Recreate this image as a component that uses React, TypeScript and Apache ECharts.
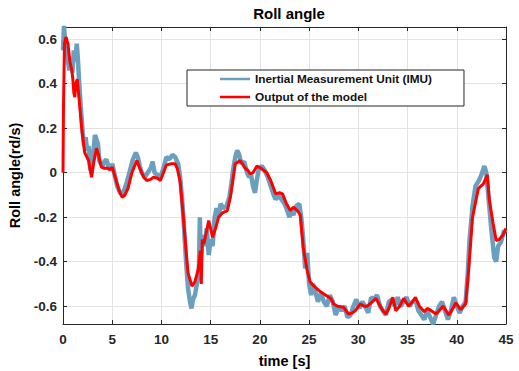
import React, { useEffect, useRef } from "react";
import * as echarts from "echarts";

const xTicks = [0, 5, 10, 15, 20, 25, 30, 35, 40, 45];
const yTicks = [-0.6, -0.4, -0.2, 0, 0.2, 0.4, 0.6];
const seriesNames = ["Inertial Measurement Unit (IMU)", "Output of the model"];

const imuData: [number, number][] = [
  [0, 0.55], [0.1, 0.66], [0.2, 0.6], [0.35, 0.55], [0.5, 0.5], [0.65, 0.46], [0.8, 0.52], [0.95, 0.45],
  [1.1, 0.55], [1.25, 0.5], [1.4, 0.58], [1.5, 0.52], [1.65, 0.4], [1.8, 0.3], [2.0, 0.18], [2.15, 0.12],
  [2.3, 0.16], [2.45, 0.1], [2.6, 0.12], [2.75, 0.02], [2.9, 0.0], [3.05, 0.08], [3.25, 0.17], [3.4, 0.15],
  [3.55, 0.13], [3.7, 0.05], [3.85, 0.04], [4.0, 0.03], [4.2, 0.05], [4.4, 0.06], [4.6, 0.03], [4.8, 0.01],
  [5.0, 0.04], [5.2, 0.0], [5.5, -0.06], [5.8, -0.09], [6.0, -0.1], [6.2, -0.08], [6.5, -0.04], [6.8, 0.01],
  [7.1, 0.06], [7.4, 0.09], [7.6, 0.07], [7.8, 0.03], [8.0, 0.0], [8.3, -0.02], [8.6, 0.0], [8.9, 0.02],
  [9.1, 0.05], [9.3, 0.0], [9.6, -0.01], [9.9, -0.02], [10.2, 0.02], [10.5, 0.07], [10.8, 0.06], [11.1, 0.08],
  [11.4, 0.07], [11.7, 0.04], [11.9, -0.02], [12.1, -0.12], [12.3, -0.25], [12.5, -0.4], [12.7, -0.52],
  [12.9, -0.58], [13.05, -0.61], [13.2, -0.57], [13.4, -0.55], [13.6, -0.5], [13.8, -0.46], [13.9, -0.2],
  [14.0, -0.38], [14.2, -0.28], [14.4, -0.33], [14.6, -0.25], [14.8, -0.37], [15.0, -0.3], [15.2, -0.33],
  [15.4, -0.2], [15.6, -0.16], [15.8, -0.2], [16.0, -0.14], [16.3, -0.16], [16.6, -0.15], [16.9, -0.11],
  [17.1, -0.05], [17.3, 0.02], [17.5, 0.07], [17.7, 0.1], [17.9, 0.08], [18.1, 0.04], [18.4, 0.05],
  [18.7, 0.0], [18.9, -0.02], [19.1, -0.01], [19.3, -0.06], [19.5, -0.09], [19.7, -0.03], [19.9, 0.02],
  [20.2, 0.03], [20.5, 0.01], [20.8, -0.02], [21.1, -0.06], [21.4, -0.1], [21.6, -0.12], [21.9, -0.1],
  [22.2, -0.12], [22.5, -0.14], [22.7, -0.16], [23.0, -0.2], [23.2, -0.17], [23.4, -0.19], [23.7, -0.15],
  [24.0, -0.14], [24.2, -0.2], [24.4, -0.3], [24.6, -0.43], [24.8, -0.36], [25.0, -0.5], [25.2, -0.55],
  [25.4, -0.5], [25.6, -0.53], [25.9, -0.58], [26.2, -0.54], [26.5, -0.58], [26.8, -0.6], [27.1, -0.55],
  [27.4, -0.58], [27.7, -0.64], [28.0, -0.6], [28.3, -0.62], [28.6, -0.6], [28.9, -0.65], [29.2, -0.64],
  [29.5, -0.6], [29.8, -0.57], [30.1, -0.61], [30.4, -0.58], [30.7, -0.6], [31.0, -0.63], [31.3, -0.56],
  [31.6, -0.57], [31.9, -0.55], [32.2, -0.6], [32.5, -0.62], [32.8, -0.64], [33.1, -0.58], [33.4, -0.57],
  [33.7, -0.6], [34.0, -0.56], [34.3, -0.6], [34.6, -0.58], [34.9, -0.56], [35.2, -0.6], [35.5, -0.58],
  [35.8, -0.57], [36.1, -0.62], [36.4, -0.64], [36.7, -0.66], [37.0, -0.62], [37.3, -0.65], [37.6, -0.68],
  [37.9, -0.64], [38.2, -0.6], [38.5, -0.58], [38.8, -0.62], [39.1, -0.66], [39.4, -0.62], [39.7, -0.56],
  [40.0, -0.6], [40.3, -0.63], [40.6, -0.6], [40.9, -0.58], [41.1, -0.46], [41.3, -0.3], [41.6, -0.15],
  [41.9, -0.06], [42.2, -0.04], [42.5, -0.01], [42.8, 0.03], [43.0, 0.0], [43.2, -0.1], [43.5, -0.25],
  [43.8, -0.38], [44.0, -0.4], [44.2, -0.33], [44.5, -0.31], [44.8, -0.26], [45, -0.27],
];

const modelData: [number, number][] = [
  [0, 0], [0.05, 0.3], [0.15, 0.58], [0.3, 0.61], [0.5, 0.58], [0.7, 0.5], [0.9, 0.46], [1.0, 0.42],
  [1.1, 0.36], [1.2, 0.34], [1.3, 0.4], [1.45, 0.42], [1.7, 0.3], [1.9, 0.2], [2.2, 0.09], [2.6, 0.055],
  [2.9, -0.02], [3.1, 0.04], [3.4, 0.11], [3.6, 0.08], [3.9, 0.025], [4.2, 0.02], [4.5, 0.02], [4.8, 0.015],
  [5.0, 0.025], [5.3, -0.02], [5.7, -0.08], [6.0, -0.11], [6.3, -0.1], [6.6, -0.07], [7.0, 0.0], [7.5, 0.055],
  [7.8, 0.02], [8.2, -0.02], [8.5, -0.035], [8.9, -0.03], [9.2, -0.02], [9.6, -0.025], [9.9, -0.035],
  [10.2, 0.0], [10.5, 0.035], [11.0, 0.04], [11.4, 0.04], [11.6, 0.02], [11.9, -0.04], [12.2, -0.185],
  [12.5, -0.35], [12.7, -0.45], [13.1, -0.51], [13.4, -0.49], [13.7, -0.44], [13.8, -0.41], [13.95, -0.35],
  [14.05, -0.5], [14.15, -0.3], [14.3, -0.32], [14.5, -0.28], [14.8, -0.215], [15.2, -0.29], [15.5, -0.25],
  [15.8, -0.2], [16.2, -0.18], [16.7, -0.17], [17.0, -0.11], [17.3, -0.02], [17.5, 0.04], [18.0, 0.055],
  [18.5, 0.02], [18.8, 0.01], [19.0, -0.005], [19.3, 0.0], [19.7, 0.03], [20.1, 0.02], [20.7, 0.0],
  [21.1, -0.035], [21.6, -0.095], [22.0, -0.09], [22.3, -0.095], [22.7, -0.14], [23.1, -0.17],
  [23.4, -0.155], [23.8, -0.17], [24.1, -0.19], [24.4, -0.335], [24.8, -0.44], [25.1, -0.49], [25.5, -0.51],
  [26.0, -0.53], [26.5, -0.545], [27.2, -0.565], [27.5, -0.59], [27.9, -0.6], [28.5, -0.605], [29.0, -0.635],
  [29.4, -0.63], [29.7, -0.62], [30.2, -0.59], [30.6, -0.6], [30.9, -0.6], [31.3, -0.585], [31.8, -0.565],
  [32.1, -0.59], [32.5, -0.62], [32.8, -0.635], [33.1, -0.61], [33.5, -0.56], [33.8, -0.62], [34.2, -0.6],
  [34.6, -0.565], [35.1, -0.6], [35.5, -0.58], [35.8, -0.56], [36.2, -0.6], [36.7, -0.625], [37.0, -0.61],
  [37.4, -0.62], [37.9, -0.635], [38.2, -0.62], [38.6, -0.6], [38.9, -0.62], [39.2, -0.64], [39.6, -0.61],
  [39.9, -0.585], [40.4, -0.615], [40.9, -0.59], [41.2, -0.44], [41.6, -0.2], [42.2, -0.07], [42.7, -0.05],
  [43.1, -0.01], [43.3, -0.12], [43.7, -0.23], [44.0, -0.305], [44.3, -0.3], [44.7, -0.28], [45, -0.25],
];

const FONT = "'Liberation Sans', Arial, sans-serif";
const DARK = "#262626";

export default function App() {
  const ref = useRef<HTMLDivElement>(null);
  useEffect(() => {
    if (!ref.current) return;
    const chart = echarts.init(ref.current, undefined, { renderer: "svg" });
    const tickLabel = { color: DARK, fontFamily: FONT, fontWeight: "bold" as const, fontSize: 13.5 };
    const baseX = {
      type: "value" as const,
      min: xTicks[0],
      max: xTicks[xTicks.length - 1],
      interval: 5,
      axisLine: { show: true, onZero: false, lineStyle: { color: DARK, width: 1 } },
      axisTick: { show: true, inside: true, length: 4, lineStyle: { color: DARK } },
    };
    const baseY = {
      type: "value" as const,
      min: -0.68,
      max: 0.655,
      axisLine: { show: true, onZero: false, lineStyle: { color: DARK, width: 1 } },
      axisTick: { show: true, inside: true, length: 4, customValues: yTicks, lineStyle: { color: DARK } },
    };
    chart.setOption({
      animation: false,
      backgroundColor: "#fff",
      title: {
        text: "Roll angle",
        left: 284,
        textAlign: "center",
        top: 1,
        textStyle: { fontFamily: FONT, fontWeight: "bold", fontSize: 15, color: "#000" },
      },
      legend: {
        left: 187,
        top: 70,
        orient: "vertical",
        data: seriesNames,
        icon: "rect",
        itemWidth: 30,
        itemHeight: 2.5,
        itemGap: 4,
        itemTextGap: 2,
        padding: [2, 32, 2, 33],
        borderColor: DARK,
        borderWidth: 1,
        backgroundColor: "#fff",
        textStyle: { fontFamily: FONT, fontWeight: "bold", fontSize: 11.8, color: "#111", lineHeight: 14 },
      },
      grid: { left: 63, right: 13, top: 27, bottom: 47, containLabel: false, outerBoundsMode: "none" },
      xAxis: [
        {
          ...baseX,
          position: "bottom",
          name: "time [s]",
          nameLocation: "middle",
          nameGap: 29,
          nameTextStyle: { fontFamily: FONT, fontWeight: "bold", fontSize: 14.5, color: "#000" },
          axisLabel: { ...tickLabel, margin: 8 },
          splitLine: { show: true, lineStyle: { color: "#e3e3e3", width: 1 } },
        },
        {
          ...baseX,
          position: "top",
          axisLabel: { show: false },
          splitLine: { show: false },
        },
      ],
      yAxis: [
        {
          ...baseY,
          position: "left",
          name: "Roll angle(rd/s)",
          nameLocation: "middle",
          nameGap: 32,
          nameTextStyle: { fontFamily: FONT, fontWeight: "bold", fontSize: 14.5, color: "#000" },
          axisLabel: { ...tickLabel, margin: 6, customValues: yTicks },
          splitLine: { show: true, lineStyle: { color: "#e3e3e3", width: 1 } },
        },
        {
          ...baseY,
          position: "right",
          axisLabel: { show: false, customValues: yTicks },
          splitLine: { show: false },
        },
      ],
      series: [
        {
          name: seriesNames[0],
          type: "line",
          data: imuData,
          showSymbol: false,
          color: "#6a9fbf",
          lineStyle: { color: "#6a9fbf", width: 4.5 },
          z: 2,
        },
        {
          name: seriesNames[1],
          type: "line",
          data: modelData,
          showSymbol: false,
          color: "#ff0000",
          lineStyle: { color: "#ff0000", width: 3 },
          z: 3,
        },
      ],
    });
    return () => chart.dispose();
  }, []);
  return <div ref={ref} style={{ position: "fixed", left: 0, top: 0, width: 519, height: 371 }} />;
}
